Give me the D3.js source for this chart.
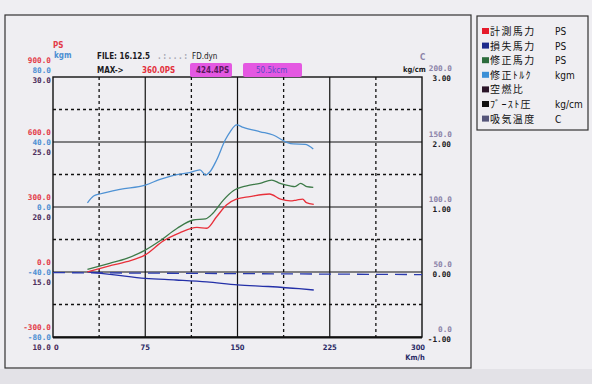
<!DOCTYPE html>
<html>
<head>
<meta charset="utf-8">
<script src="https://cdnjs.cloudflare.com/ajax/libs/d3/7.8.5/d3.min.js"></script>
<style>
  body { margin: 0; background: #efeef2; }
  svg { display: block; }
  .mono { font-family: "DejaVu Sans Mono", monospace; font-weight: bold; font-size: 7.7px; }
  .cond { font-family: "DejaVu Sans Condensed", "DejaVu Sans", sans-serif; font-weight: bold; font-size: 7.5px; }
  .jp { font-family: "Noto Sans CJK JP", sans-serif; font-size: 10px; }
</style>
</head>
<body>
<script>
// 軸の目盛り
var speedTicks = [75, 150, 225, 300];
var psTicks = [900, 600, 300, 0, -300];
var kgmTicks = [80, 40, 0, -40, -80];
var afrTicks = [30, 25, 20, 15, 10];
var cTicks = [200, 150, 100, 50, 0];
var boostTicks = [3, 2, 1, 0, -1];

// 計測馬力 PS
var speedRed = [28, 46, 60, 75, 90, 103, 117, 125, 133, 141, 149, 160, 176, 185, 193, 198, 203, 206, 212];
var psRed = [1, 28, 48, 79, 145, 181, 206, 202, 255, 309, 336, 348, 360, 336, 328, 332, 336, 320, 312];
// 損失馬力 PS
var speedLoss = [28, 50, 75, 100, 125, 150, 175, 200, 212];
var psLoss = [1, -13, -29, -37, -46, -59, -67, -77, -83];
// 修正馬力 PS
var speedGreen = [28, 46, 60, 75, 87, 101, 114, 124, 130, 138.5, 146.6, 157.5, 168.3, 177.8, 184.6, 192.7, 196.7, 201.4, 206.3, 211.6];
var psGreen = [12, 40, 63, 101, 144, 202, 240, 245, 271, 332, 375, 398, 409, 424, 409, 397, 394, 409, 394, 391];
// 修正トルク kgm
var speedTq = [28, 33, 38, 54.5, 75, 87, 98, 111, 119.5, 124, 127.6, 133, 140, 144, 149.3, 154.7, 168.5, 179, 190, 195.4, 205, 211.6];
var kgmTq = [2.6, 6.8, 8.0, 10.9, 13.5, 17.0, 19.5, 21.1, 22.8, 19.7, 21.7, 28.9, 41.2, 46.3, 50.5, 49.0, 46.3, 44.3, 39.8, 38.8, 38.6, 35.7];
// ブースト圧 基準線 kg/cm
var speedBoost = [0, 300];
var boostLine = [-0.01, -0.04];

var legendNames = ["計測馬力", "損失馬力", "修正馬力", "修正ﾄﾙｸ", "空燃比", "ﾌﾞｰｽﾄ圧", "吸気温度"];
var legendUnits = ["PS", "PS", "PS", "kgm", "", "kg/cm", "C"];
var legendColors = ["#e5192a", "#1d2a8c", "#2c6b3c", "#3b8fd6", "#2a1428", "#111111", "#55557a"];

var W = 592, H = 384;
var svg = d3.select("body").append("svg").attr("width", W).attr("height", H);

var x = d3.scaleLinear().domain([0, 300]).range([53, 422]);
var yPS = d3.scaleLinear().domain([-300, 900]).range([337, 77]);
var yKgm = d3.scaleLinear().domain([-80, 80]).range([337, 77]);
var yAfr = d3.scaleLinear().domain([10, 30]).range([337, 77]);
var yC = d3.scaleLinear().domain([0, 200]).range([337, 77]);
var yBoost = d3.scaleLinear().domain([-1, 3]).range([337, 77]);

// 外枠
svg.append("rect").attr("x", 0).attr("y", 369).attr("width", W).attr("height", 15).attr("fill", "#e3e2e7");
svg.append("rect").attr("x", 5).attr("y", 15).attr("width", 466).attr("height", 353)
  .attr("fill", "none").attr("stroke", "#333").attr("stroke-width", 1.2);

// グリッド
var g = svg.append("g");
var half = [];
for (var i = 0; i < psTicks.length - 1; i++) half.push((psTicks[i] + psTicks[i + 1]) / 2);
g.selectAll(".hdash").data(half).enter().append("line")
  .attr("x1", x(0)).attr("x2", x(300)).attr("y1", function (d) { return yPS(d); }).attr("y2", function (d) { return yPS(d); })
  .attr("stroke", "#111").attr("stroke-width", 1.3).attr("stroke-dasharray", "3,3");
var vhalf = [37.5, 112.5, 187.5, 262.5];
g.selectAll(".vdash").data(vhalf).enter().append("line")
  .attr("x1", function (d) { return x(d); }).attr("x2", function (d) { return x(d); })
  .attr("y1", yPS(900)).attr("y2", yPS(-300))
  .attr("stroke", "#111").attr("stroke-width", 1.3).attr("stroke-dasharray", "3,3");
g.selectAll(".hsolid").data(psTicks.slice(1, 4)).enter().append("line")
  .attr("x1", x(0)).attr("x2", x(300)).attr("y1", function (d) { return yPS(d); }).attr("y2", function (d) { return yPS(d); })
  .attr("stroke", "#111").attr("stroke-width", 1.2);
g.selectAll(".vsolid").data(speedTicks.slice(0, 3)).enter().append("line")
  .attr("x1", function (d) { return x(d); }).attr("x2", function (d) { return x(d); })
  .attr("y1", yPS(900)).attr("y2", yPS(-300))
  .attr("stroke", "#111").attr("stroke-width", 1.2);
g.append("rect").attr("x", x(0)).attr("y", yPS(900)).attr("width", x(300) - x(0)).attr("height", yPS(-300) - yPS(900))
  .attr("fill", "none").attr("stroke", "#111").attr("stroke-width", 1.4);
g.append("line").attr("x1", x(0)).attr("x2", x(300)).attr("y1", yPS(-300) + 0.5).attr("y2", yPS(-300) + 0.5)
  .attr("stroke", "#111").attr("stroke-width", 2);

// 左の目盛り
function topShift(i) { return i === 0 ? -7 : 0; }
var left = svg.append("g").attr("class", "mono").attr("text-anchor", "end");
psTicks.forEach(function (v, i) {
  left.append("text").attr("x", 51).attr("y", yPS(v) + topShift(i) - 10 + 3).attr("fill", "#e33a48").text(v.toFixed(1));
  left.append("text").attr("x", 51).attr("y", yKgm(kgmTicks[i]) + topShift(i) + 3).attr("fill", "#4c8fd3").text(kgmTicks[i].toFixed(1));
  left.append("text").attr("x", 51).attr("y", yAfr(afrTicks[i]) + topShift(i) + 10 + 3).attr("fill", "#4a2a58").text(afrTicks[i].toFixed(1));
});
svg.append("text").attr("class", "cond").attr("x", 53).attr("y", 48).attr("fill", "#e33a48").style("font-size", "8px").text("PS");
svg.append("text").attr("class", "cond").attr("x", 54).attr("y", 58).attr("fill", "#4c8fd3").style("font-size", "8px").text("kgm");

// 右の目盛り
var right = svg.append("g").attr("class", "mono").attr("text-anchor", "end");
cTicks.forEach(function (v, i) {
  var s = i === 0 ? -1 : 0;
  right.append("text").attr("x", 452).attr("y", yC(v) - 8 + s + 3).attr("fill", "#8a82a8").text(v.toFixed(1));
  right.append("text").attr("x", 451).attr("y", yBoost(boostTicks[i]) + 2 + s + 3).attr("fill", "#1a1a22").text(boostTicks[i].toFixed(2));
});
svg.append("text").attr("class", "cond").attr("x", 420).attr("y", 60).attr("fill", "#8a82a8").style("font-size", "8px").text("C");
svg.append("text").attr("class", "cond").attr("x", 403).attr("y", 72).attr("fill", "#1a1a22").text("kg/cm");

// 下の目盛り
var bottom = svg.append("g").attr("class", "cond").attr("text-anchor", "middle").attr("fill", "#2a2a66");
speedTicks.forEach(function (v) {
  bottom.append("text").attr("x", x(v) - (v === 300 ? 4 : 0)).attr("y", 350).text(v);
});
bottom.append("text").attr("x", x(300) - 7).attr("y", 360).text("Km/h");
svg.append("text").attr("class", "cond").attr("x", 54).attr("y", 350).attr("fill", "#4a2a58").text("0");

// ヘッダー
svg.append("rect").attr("x", 190).attr("y", 63).attr("width", 42).attr("height", 14).attr("rx", 2).attr("fill", "#e458e2");
svg.append("rect").attr("x", 243).attr("y", 63).attr("width", 59).attr("height", 14).attr("rx", 2).attr("fill", "#e458e2");
var head = svg.append("g").attr("class", "cond").style("font-size", "8px").attr("fill", "#1a1a22");
head.append("text").attr("x", 97).attr("y", 59).text("FILE: 16.12.5");
head.append("text").attr("x", 158).attr("y", 59).attr("fill", "#a9a8b2").text(".  :  .  .  . :");
head.append("text").attr("x", 192).attr("y", 59).style("font-weight", "normal").text("FD.dyn");
head.append("text").attr("x", 97).attr("y", 73).text("MAX->");
head.append("text").attr("x", 142).attr("y", 73).attr("fill", "#e3303c").text("360.0PS");
head.append("text").attr("x", 196).attr("y", 73).attr("fill", "#5a1a5e").text("424.4PS");
head.append("text").attr("x", 256).attr("y", 73).attr("fill", "#5a4ac6").style("font-weight", "normal").text("50.5kcm");

// 曲線
function series(xs, ys, yScale) {
  return xs.map(function (d, i) { return [x(d), yScale(ys[i])]; });
}
var line = d3.line().curve(d3.curveMonotoneX);
var curves = svg.append("g").attr("fill", "none").attr("stroke-linejoin", "round");
curves.append("path").attr("d", d3.line()(series(speedBoost, boostLine, yBoost)))
  .attr("stroke", "#2a3aae").attr("stroke-width", 1.3).attr("stroke-dasharray", "12,7");
curves.append("path").attr("d", line(series(speedLoss, psLoss, yPS))).attr("stroke", "#2430a8").attr("stroke-width", 1.3);
curves.append("path").attr("d", line(series(speedGreen, psGreen, yPS))).attr("stroke", "#3d7a48").attr("stroke-width", 1.3);
curves.append("path").attr("d", line(series(speedRed, psRed, yPS))).attr("stroke", "#e8303a").attr("stroke-width", 1.3);
curves.append("path").attr("d", line(series(speedTq, kgmTq, yKgm))).attr("stroke", "#4f92d4").attr("stroke-width", 1.3);

// 凡例
var lg = svg.append("g");
lg.append("rect").attr("x", 477).attr("y", 16).attr("width", 111).attr("height", 114)
  .attr("fill", "none").attr("stroke", "#333").attr("stroke-width", 1.2);
legendNames.forEach(function (name, i) {
  var yy = 31 + i * 14.6;
  lg.append("rect").attr("x", 482).attr("y", yy - 3).attr("width", 7).attr("height", 6).attr("fill", legendColors[i]);
  lg.append("text").attr("class", "jp").attr("x", 490).attr("y", yy + 4).attr("fill", "#111")
    .style("letter-spacing", "1.4px").text(name);
  lg.append("text").attr("class", "cond").attr("x", 555).attr("y", yy + 4).attr("fill", "#111")
    .style("font-size", "10px").style("font-weight", "normal").text(legendUnits[i]);
});
</script>
</body>
</html>
